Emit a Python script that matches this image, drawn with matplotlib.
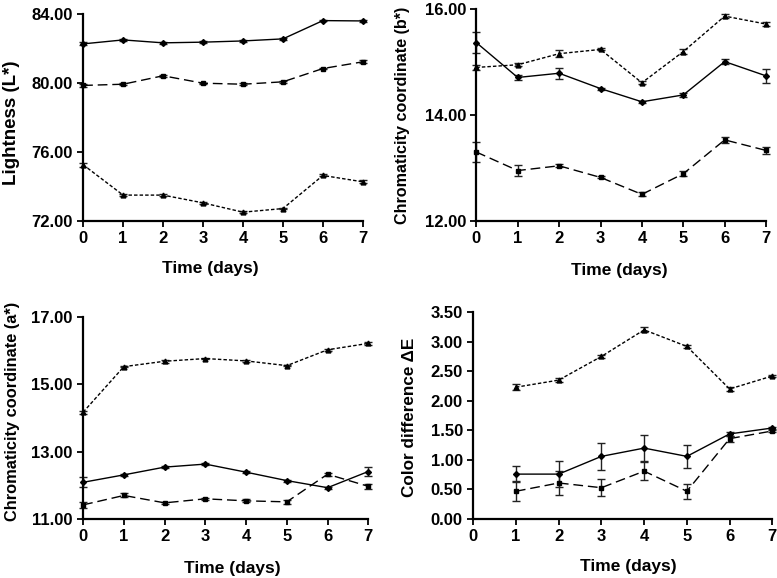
import numpy as np
import matplotlib
matplotlib.use('Agg')
import matplotlib.pyplot as plt

plt.rcParams['font.family'] = ['Liberation Sans', 'DejaVu Sans']
plt.rcParams['font.weight'] = 'bold'

days = np.arange(8)
days_de = np.arange(1, 8)

# Lightness L*
L_solid = [82.26, 82.49, 82.32, 82.36, 82.43, 82.55, 83.61, 83.59]
L_solid_err = [0.08, 0.05, 0.05, 0.04, 0.04, 0.04, 0.05, 0.08]
L_dash = [79.85, 79.92, 80.41, 79.98, 79.92, 80.06, 80.83, 81.22]
L_dash_err = [0.10, 0.06, 0.05, 0.04, 0.05, 0.05, 0.05, 0.08]
L_dot = [75.25, 73.49, 73.49, 73.04, 72.50, 72.71, 74.63, 74.26]
L_dot_err = [0.12, 0.06, 0.05, 0.04, 0.06, 0.05, 0.06, 0.08]

# Chromaticity b*
b_solid = [15.37, 14.71, 14.79, 14.50, 14.25, 14.38, 15.01, 14.74]
b_solid_err = [0.20, 0.05, 0.10, 0.02, 0.02, 0.03, 0.04, 0.13]
b_dot = [14.90, 14.95, 15.16, 15.24, 14.61, 15.20, 15.87, 15.72]
b_dot_err = [0.05, 0.03, 0.07, 0.02, 0.03, 0.05, 0.04, 0.04]
b_dash = [13.30, 12.95, 13.04, 12.82, 12.50, 12.89, 13.53, 13.33]
b_dash_err = [0.19, 0.10, 0.03, 0.02, 0.04, 0.05, 0.06, 0.06]

# Chromaticity a*
a_dot = [14.17, 15.52, 15.68, 15.76, 15.69, 15.55, 16.02, 16.21]
a_dot_err = [0.04, 0.02, 0.04, 0.02, 0.02, 0.02, 0.03, 0.04]
a_solid = [12.09, 12.31, 12.54, 12.63, 12.39, 12.14, 11.93, 12.41]
a_solid_err = [0.15, 0.04, 0.03, 0.03, 0.03, 0.03, 0.03, 0.12]
a_dash = [11.42, 11.70, 11.48, 11.60, 11.54, 11.51, 12.33, 11.97]
a_dash_err = [0.10, 0.06, 0.03, 0.03, 0.04, 0.05, 0.05, 0.07]

# Color difference dE
e_dot = [2.23, 2.35, 2.75, 3.20, 2.92, 2.20, 2.42]
e_dot_err = [0.05, 0.03, 0.03, 0.04, 0.02, 0.03, 0.01]
e_solid = [0.76, 0.76, 1.06, 1.20, 1.06, 1.44, 1.54]
e_solid_err = [0.14, 0.22, 0.23, 0.22, 0.19, 0.04, 0.02]
e_dash = [0.47, 0.61, 0.53, 0.81, 0.47, 1.36, 1.49]
e_dash_err = [0.17, 0.20, 0.14, 0.15, 0.13, 0.05, 0.02]

styles = {
    'solid': dict(ls='-', marker='D', ms=3),
    'dash': dict(ls=(0, (7, 3.5)), marker='s', ms=3.5),
    'dot': dict(ls=(0, (2.5, 1.5)), marker='^', ms=3.5),
}

W, H = 777, 578
fig = plt.figure(figsize=(W / 100, H / 100), dpi=100)
ax1 = fig.add_axes([0.107, 0.618, 0.360, 0.358])
ax2 = fig.add_axes([0.613, 0.618, 0.373, 0.366])
ax3 = fig.add_axes([0.107, 0.102, 0.367, 0.350])
ax4 = fig.add_axes([0.609, 0.102, 0.385, 0.358])


def series(ax, x, y, err, kind):
    st = styles[kind]
    ax.errorbar(x, y, yerr=err, color='black', lw=1.0, ls=st['ls'],
                marker=st['marker'], ms=st['ms'], mfc='black', mec='black',
                ecolor='#222222', elinewidth=1.0, capsize=3, capthick=1.0,
                clip_on=False)


def style_axis(ax, ylim, yticks):
    ax.set_xlim(0, 7)
    ax.set_ylim(*ylim)
    ax.set_xticks(days)
    ax.set_yticks(yticks)
    ax.set_yticklabels(['%.2f' % t for t in yticks])
    ax.spines['top'].set_visible(False)
    ax.spines['right'].set_visible(False)
    ax.spines['left'].set_linewidth(1.6)
    ax.spines['bottom'].set_linewidth(1.6)
    ax.tick_params(direction='out', length=4.5, width=1.3, labelsize=12, pad=3)
    for lab in ax.get_xticklabels() + ax.get_yticklabels():
        lab.set_fontweight('bold')


def labels(xlab_px, ylab_px, ytext, ysize=12):
    fig.text(xlab_px[0] / W, 1 - xlab_px[1] / H, 'Time (days)', fontsize=12.5,
             fontweight='bold', ha='center', va='center')
    fig.text(ylab_px[0] / W, 1 - ylab_px[1] / H, ytext, fontsize=ysize,
             fontweight='bold', ha='center', va='center', rotation=90)


series(ax1, days, L_solid, L_solid_err, 'solid')
series(ax1, days, L_dash, L_dash_err, 'dash')
series(ax1, days, L_dot, L_dot_err, 'dot')
style_axis(ax1, (72, 84), [72, 76, 80, 84])
labels((210, 269), (12, 123), 'Lightness (L*)', ysize=13.5)

series(ax2, days, b_solid, b_solid_err, 'solid')
series(ax2, days, b_dot, b_dot_err, 'dot')
series(ax2, days, b_dash, b_dash_err, 'dash')
style_axis(ax2, (12, 16), [12, 14, 16])
labels((619, 270), (403, 115), 'Chromaticity coordinate (b*)', ysize=11.6)

series(ax3, days, a_dot, a_dot_err, 'dot')
series(ax3, days, a_solid, a_solid_err, 'solid')
series(ax3, days, a_dash, a_dash_err, 'dash')
style_axis(ax3, (11, 17), [11, 13, 15, 17])
labels((232, 569), (13, 411), 'Chromaticity coordinate (a*)', ysize=11.8)

series(ax4, days_de, e_dot, e_dot_err, 'dot')
series(ax4, days_de, e_solid, e_solid_err, 'solid')
series(ax4, days_de, e_dash, e_dash_err, 'dash')
style_axis(ax4, (0, 3.5), [0, 0.5, 1.0, 1.5, 2.0, 2.5, 3.0, 3.5])
labels((628, 567), (409, 417), 'Color difference \u0394E', ysize=12.3)

fig.savefig('out.png', dpi=100)
